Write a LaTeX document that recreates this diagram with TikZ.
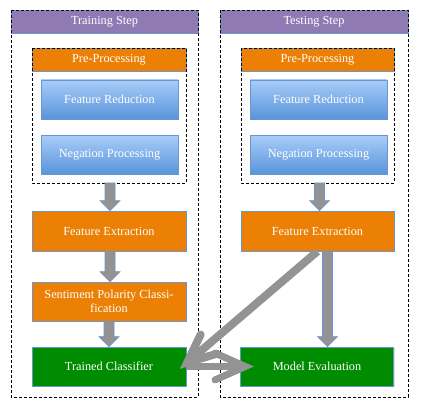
\documentclass[tikz,border=0pt]{standalone}
\usepackage{fontspec}
\setmainfont{Liberation Serif}
\usetikzlibrary{calc,shadows}
\definecolor{purp}{HTML}{8F7AB3}
\definecolor{orng}{HTML}{EB8005}
\definecolor{grn}{HTML}{008C00}
\definecolor{btop}{HTML}{A8CCF8}
\definecolor{bbot}{HTML}{5894DA}
\definecolor{bord}{HTML}{6A95D0}
\definecolor{arr}{HTML}{939393}
\tikzset{
  box/.style={draw=bord, line width=0.6pt, inner sep=0pt, align=center, text=white, font=\fontsize{12.3}{13.5}\selectfont},
  titlebox/.style={box, fill=purp, minimum height=23pt},
  orangebox/.style={box, fill=orng, drop shadow={opacity=0.25, shadow xshift=1pt, shadow yshift=-1pt}},
  greenbox/.style={box, fill=grn, drop shadow={opacity=0.25, shadow xshift=1pt, shadow yshift=-1pt}},
  bluebox/.style={box, top color=btop, bottom color=bbot, minimum width=137pt, minimum height=39pt, drop shadow={opacity=0.25, shadow xshift=1pt, shadow yshift=-1pt}},
  frame/.style={draw=black, dashed, line width=0.6pt, dash pattern=on 3pt off 2pt},
  fat/.style={fill=arr, draw=bord, line width=0.6pt},
  thickline/.style={draw=arr, line width=8pt, line cap=round},
}
\newcommand\fatdown[3]{% #1 start point, #2 end point, #3 x shift
  \path let \p1=(#1), \p2=(#2) in
    [fat] ({\x1+#3-5pt},\y1) -- ({\x1+#3+5pt},\y1) -- ({\x1+#3+5pt},{\y2+10pt})
    -- ({\x1+#3+10pt},{\y2+10pt}) -- ({\x1+#3},\y2) -- ({\x1+#3-10pt},{\y2+10pt})
    -- ({\x1+#3-5pt},{\y2+10pt}) -- cycle;}
\begin{document}
\begin{tikzpicture}[x=1pt,y=-1pt]
\useasboundingbox (0,0) rectangle (426,406);
% left panel
\node[titlebox, minimum width=187pt] (t1) at (104.5,21.5) {Training Step};
\node[orangebox, minimum width=154pt, minimum height=23pt] (p1) at (109,59.5) {Pre-Processing};
\node[bluebox] (fr1) at (109.5,99.5) {Feature Reduction};
\node[bluebox] (np1) at (109.5,155) {Negation Processing};
\node[orangebox, minimum width=154pt, minimum height=40pt] (fe1) at (109,231) {Feature Extraction};
\node[orangebox, minimum width=154pt, minimum height=39pt] (sp1) at (109,301.5) {Sentiment Polarity Classi-\\fication};
\node[greenbox, minimum width=154pt, minimum height=39pt] (tc) at (109,366.5) {Trained Classifier};
\coordinate (ib1) at (109,183);
\draw[frame] (11,10) rectangle (198,397);
\draw[frame] (32,48) rectangle (186,183);
% right panel
\node[titlebox, minimum width=188pt] (t2) at (314,21.5) {Testing Step};
\node[orangebox, minimum width=153pt, minimum height=23pt] (p2) at (317.5,59.5) {Pre-Processing};
\node[bluebox] (fr2) at (318.5,99.5) {Feature Reduction};
\node[bluebox] (np2) at (318.5,155) {Negation Processing};
\node[orangebox, minimum width=153pt, minimum height=40pt] (fe2) at (317.5,231) {Feature Extraction};
\node[greenbox, minimum width=153pt, minimum height=39pt] (me) at (317,366.5) {Model Evaluation};
\coordinate (ib2) at (319.5,183);
\draw[frame] (220,10) rectangle (408,397);
\draw[frame] (241,48) rectangle (394,183);
% vertical arrows
\fatdown{ib1}{fe1.north}{1pt}
\fatdown{fe1.south}{sp1.north}{1pt}
\fatdown{sp1.south}{tc.north}{0pt}
\fatdown{ib2}{fe2.north}{0pt}
\fatdown{fe2.south}{me.north}{10pt}
% diagonal arrow
\coordinate (dtip) at ($(tc.east)+(1,-4)$);
\draw[thickline, line cap=butt] (fe2.south) -- (dtip);
\draw[thickline] ($(dtip)!31pt!24:(fe2.south)$) -- (dtip) -- ($(dtip)!31pt!-24:(fe2.south)$);
% horizontal arrow
\coordinate (htip) at ($(me.west)+(5,0)$);
\draw[thickline, line width=7pt, line cap=butt] (tc.east) -- (htip);
\draw[thickline, line width=7pt] ($(htip)!33pt!24:(tc.east)$) -- (htip) -- ($(htip)!33pt!-24:(tc.east)$);
\end{tikzpicture}
\end{document}
